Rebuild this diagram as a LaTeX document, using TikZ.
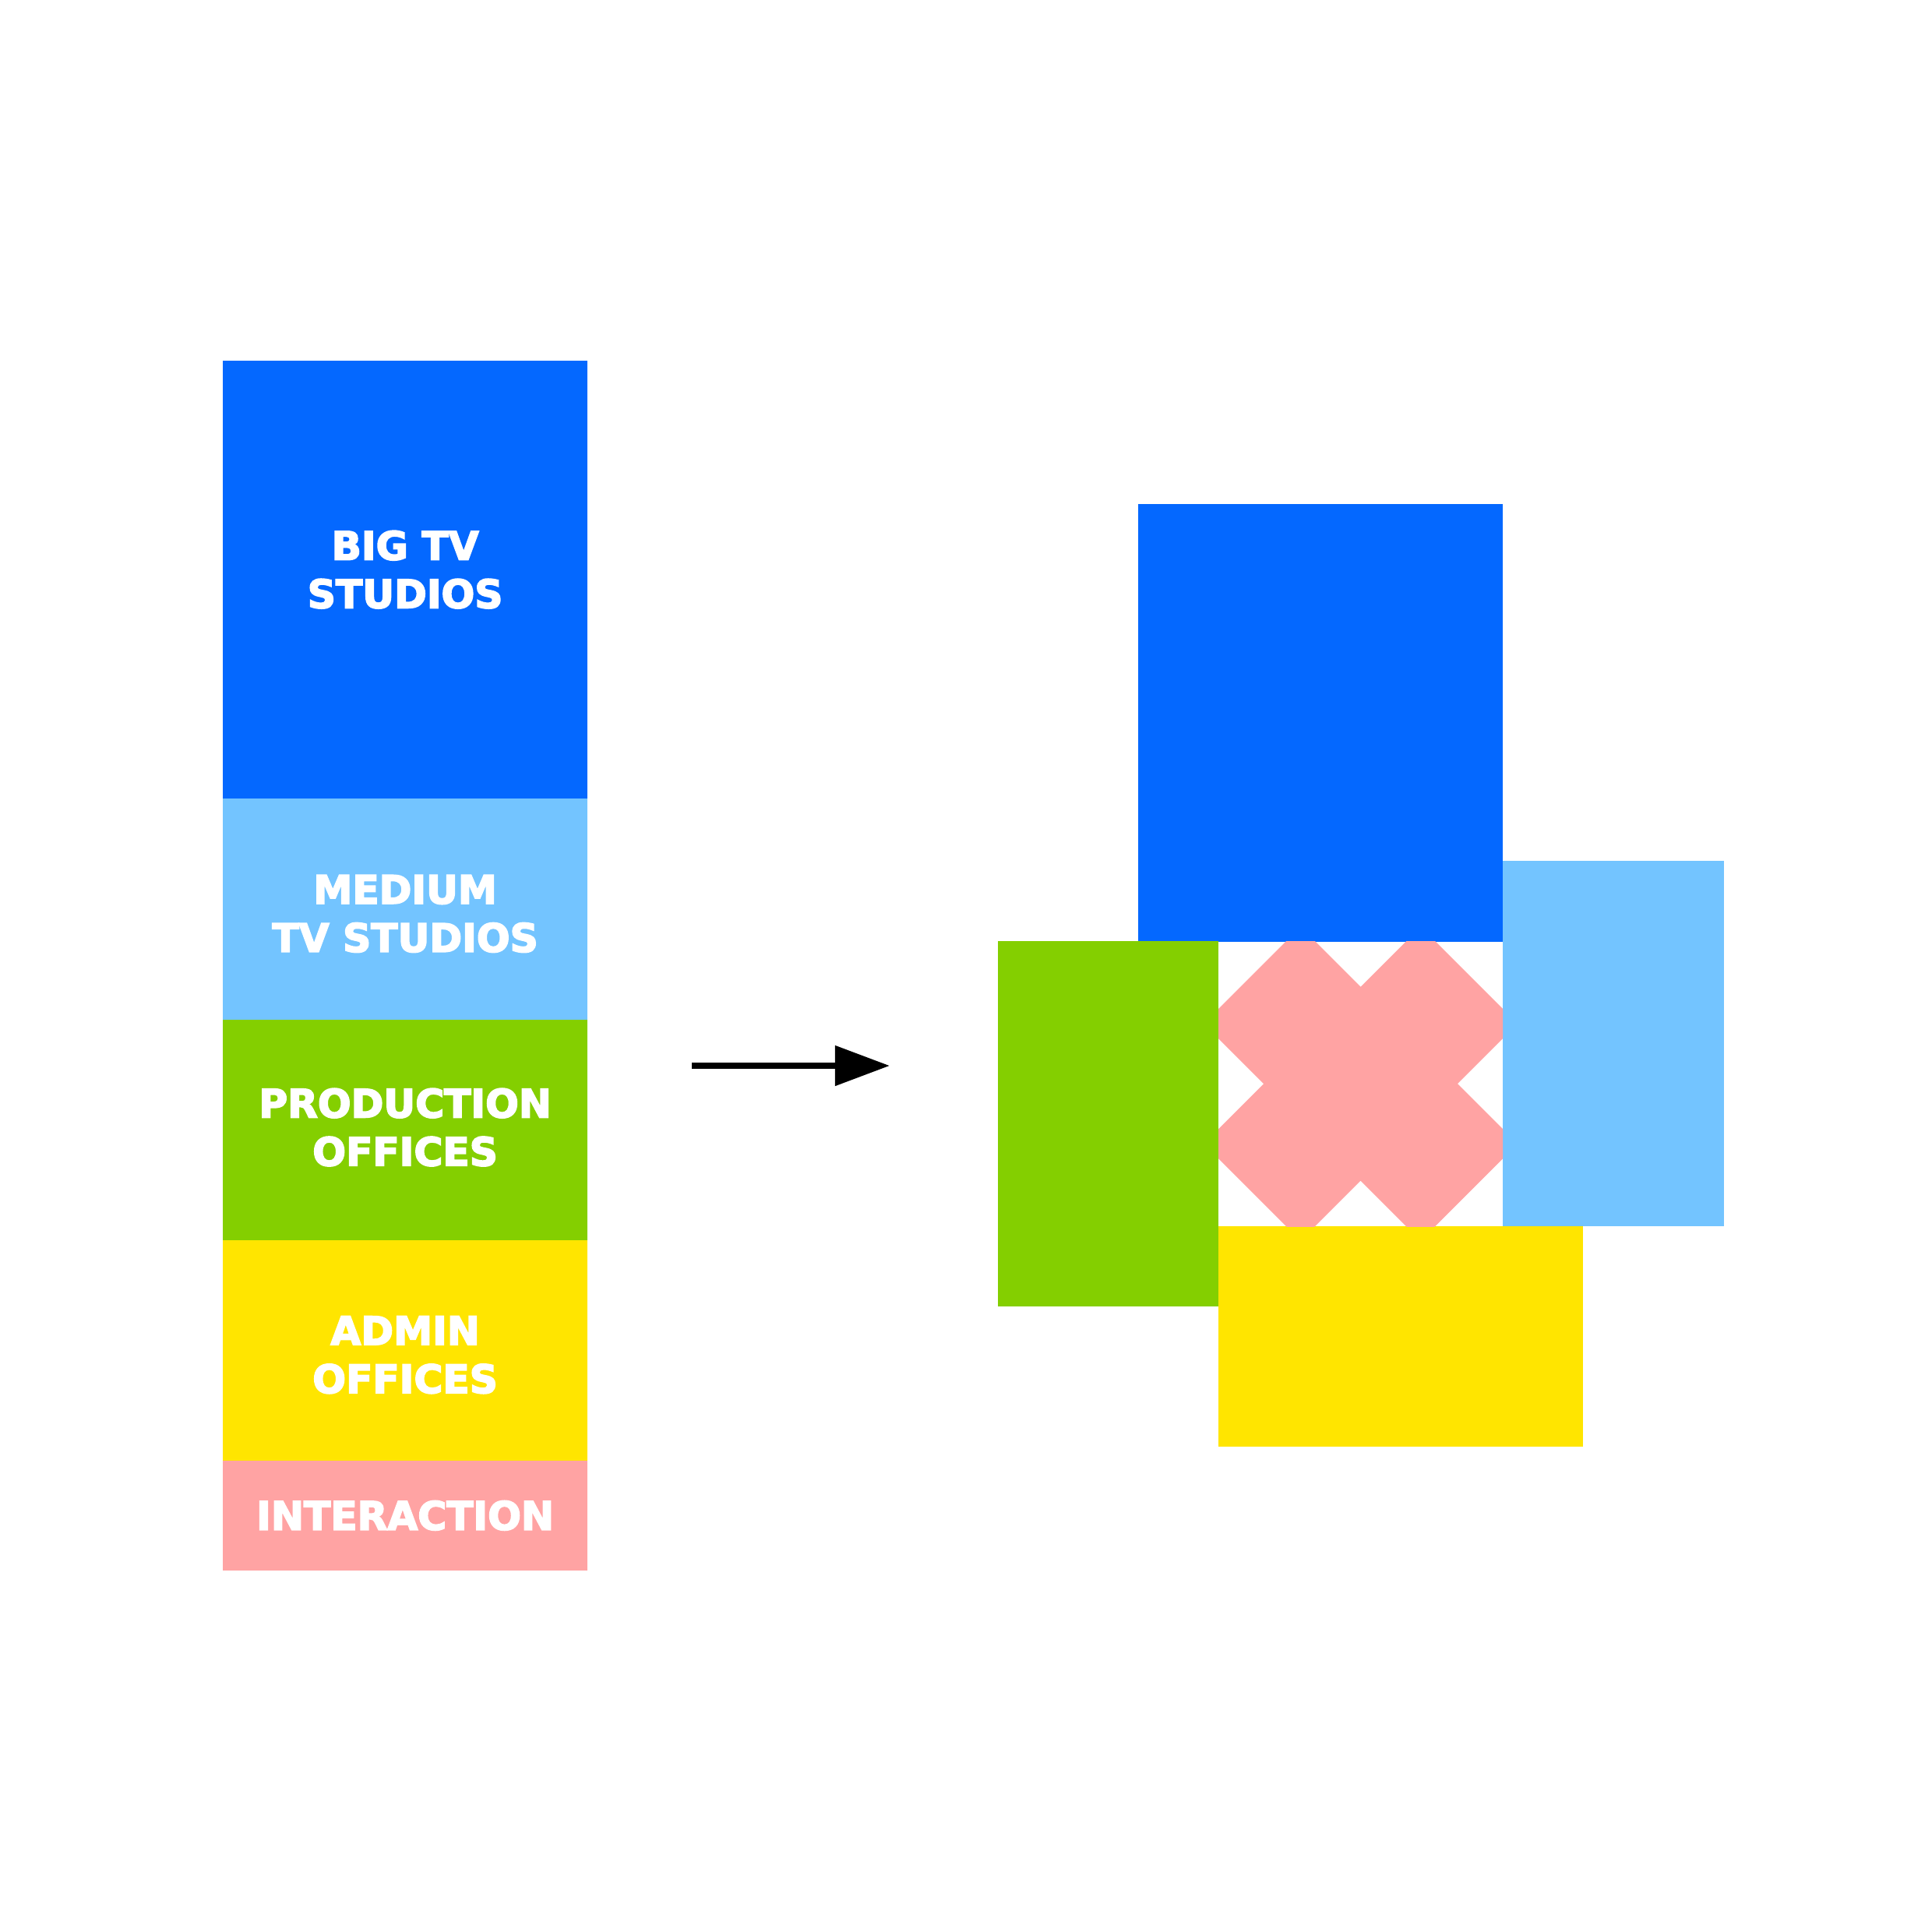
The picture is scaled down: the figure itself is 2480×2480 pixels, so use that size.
\documentclass[tikz,border=0pt]{standalone}
\usepackage{fontspec}
\usepackage{xcolor}
\newfontfamily\blockfont{DejaVu Sans}[BoldFeatures={FakeBold=3.5}]
\usetikzlibrary{positioning,calc,arrows.meta}
\definecolor{StudioBlue}{RGB}{4,104,255}
\definecolor{SkyBlue}{RGB}{115,196,255}
\definecolor{LeafGreen}{RGB}{132,207,0}
\definecolor{SunYellow}{RGB}{255,229,0}
\definecolor{Blush}{RGB}{255,163,163}

\begin{document}
\begin{tikzpicture}[
  x=0.01cm, y=-0.01cm,
  node distance=0pt,
  zone/.style={rectangle, inner sep=0pt, outer sep=0pt, minimum width=4.68cm},
  tag/.style={inner sep=0pt, align=center, text=white, font=\blockfont\bfseries\fontsize{14.3}{17.6}\selectfont},
  bigzone/.style={zone, fill=StudioBlue, minimum height=5.62cm},
  medzone/.style={zone, fill=SkyBlue, minimum height=2.83cm},
  prodzone/.style={zone, fill=LeafGreen, minimum height=2.83cm},
  adminzone/.style={zone, fill=SunYellow, minimum height=2.83cm},
  mixzone/.style={zone, fill=Blush, minimum height=1.41cm},
  arrow/.style={-{Triangle[length=0.7cm,width=0.5cm]}, line width=0.08cm, draw=black}
]
  % Canvas
  \fill[white] (0,0) rectangle (2480,2480);

  % Programme column
  \node[bigzone, anchor=north west] (bigtv) at (286,463) {};
  \node[medzone, below=of bigtv] (medtv) {};
  \node[prodzone, below=of medtv] (prod) {};
  \node[adminzone, below=of prod] (admin) {};
  \node[mixzone, below=of admin] (mix) {};

  % Labels
  \node[tag] (bigtvtxt) at ($(bigtv.center)+(0,-13)$) {BIG TV\\STUDIOS};
  \node[tag] (medtvtxt) at ($(medtv.center)+(0,6)$) {MEDIUM\\TV STUDIOS};
  \node[tag] (prodtxt) at ($(prod.center)+(0,-3)$) {PRODUCTION\\OFFICES};
  \node[tag] (admintxt) at ($(admin.center)+(0,6)$) {ADMIN\\OFFICES};
  \node[tag] (mixtxt) at (mix.center) {INTERACTION};

  % Arrow
  \coordinate (arrowfrom) at (888,1368);
  \coordinate (arrowto) at (1142,1368);
  \draw[arrow] (arrowfrom) -- (arrowto);

  % Plan
  \node[bigzone, anchor=north west] (bigtvR) at (1461,647) {};
  \node[zone, fill=SkyBlue, minimum width=2.84cm, minimum height=4.69cm, anchor=north west] (medtvR) at (1929,1105) {};
  \node[zone, fill=LeafGreen, minimum width=2.83cm, minimum height=4.69cm, anchor=north west] (prodR) at (1281,1208) {};
  \node[zone, fill=SunYellow, minimum width=4.68cm, minimum height=2.83cm, anchor=north west] (adminR) at (1564,1574) {};

  % Interaction cross in the gap
  \begin{scope}
    \clip (prodR.north east) rectangle (medtvR.south west);
    \fill[Blush, shift={($(prodR.north east)!0.5!(medtvR.south west)$)}, rotate=45]
      (88,88) -- (197,88) -- (197,-88) -- (88,-88) -- (88,-197) -- (-88,-197) --
      (-88,-88) -- (-197,-88) -- (-197,88) -- (-88,88) -- (-88,197) -- (88,197) -- cycle;
  \end{scope}
\end{tikzpicture}
\end{document}
